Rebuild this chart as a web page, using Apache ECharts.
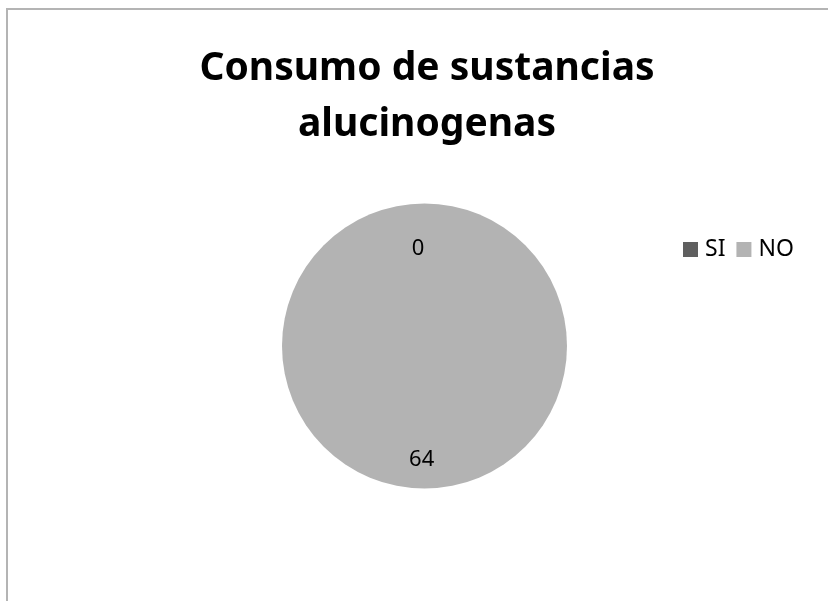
<!DOCTYPE html>
<html>
<head>
<meta charset="utf-8">
<script src="https://cdn.jsdelivr.net/npm/echarts@6/dist/echarts.min.js"></script>
<style>
  html, body { margin: 0; padding: 0; background: #ffffff; overflow: hidden; }
  #frame { position: absolute; left: 6px; top: 8px; width: 900px; height: 700px;
           border-left: 2px solid #b4b4b4; border-top: 2px solid #b4b4b4; box-sizing: border-box; }
  #chart { position: absolute; left: 0; top: 0; width: 828px; height: 601px; }
</style>
</head>
<body>
<div id="frame"></div>
<div id="chart"></div>
<script>
// Chart data
const titleText = 'Consumo de sustancias\nalucinogenas';
const categories = ['SI', 'NO'];
const values = [0, 64];
const colors = ['#5f5f5f', '#b3b3b3'];

// Pie geometry
const cx = 424.5, cy = 346, radius = 142.5;
// Label placement relative to the pie centre, as fractions of the radius
const labelSpots = [[-0.045, -0.68], [-0.02, 0.80]];

const chart = echarts.init(document.getElementById('chart'), null, { renderer: 'canvas' });

chart.setOption({
  animation: false,
  backgroundColor: 'transparent',
  title: {
    text: titleText,
    left: 422,
    top: 36,
    textAlign: 'center',
    textStyle: {
      fontFamily: 'Noto Sans',
      fontWeight: 'bold',
      fontSize: 39,
      lineHeight: 56,
      color: '#000000'
    }
  },
  legend: {
    data: categories,
    left: 678,
    top: 233,
    orient: 'horizontal',
    itemWidth: 15,
    itemHeight: 15,
    itemGap: 11,
    icon: 'rect',
    selectedMode: false,
    textStyle: {
      fontFamily: 'Noto Sans',
      fontSize: 23,
      color: '#000000',
      padding: [0, 0, 0, 2]
    }
  },
  series: [{
    type: 'pie',
    center: [cx, cy],
    radius: radius,
    startAngle: 90,
    clockwise: true,
    avoidLabelOverlap: false,
    silent: true,
    emphasis: { disabled: true },
    itemStyle: { borderWidth: 0 },
    label: {
      show: true,
      position: 'inside',
      formatter: '{c}',
      fontFamily: 'Noto Sans',
      fontSize: 22,
      color: '#000000'
    },
    labelLine: { show: false },
    labelLayout: function (params) {
      const spot = labelSpots[params.dataIndex];
      return {
        x: cx + spot[0] * radius,
        y: cy + spot[1] * radius,
        align: 'center',
        verticalAlign: 'middle'
      };
    },
    data: categories.map(function (name, i) {
      return { name: name, value: values[i], itemStyle: { color: colors[i] } };
    })
  }]
});
</script>
</body>
</html>
